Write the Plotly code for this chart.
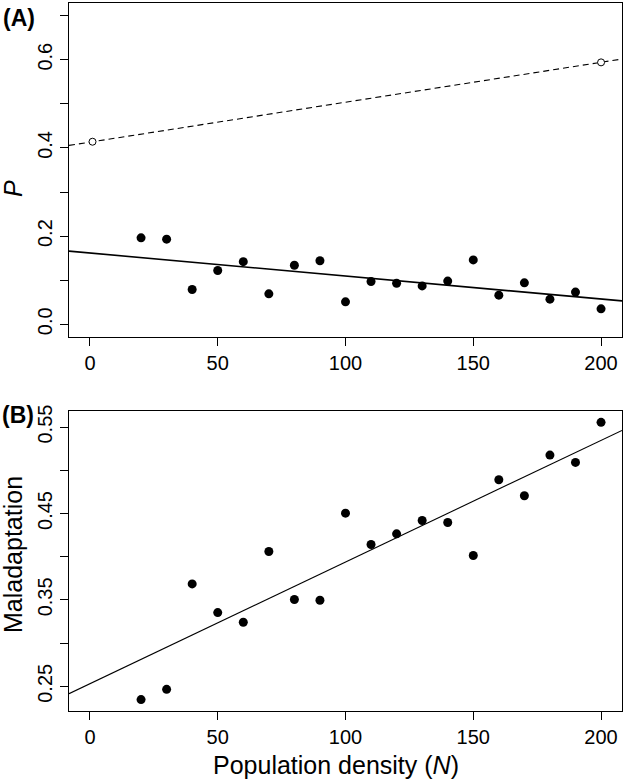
import plotly.graph_objects as go

# ---------------- data ----------------
density = [20, 30, 40, 50, 60, 70, 80, 90, 100, 110, 120, 130, 140, 150, 160, 170, 180, 190, 200]
p_values = [0.196, 0.193, 0.079, 0.122, 0.142, 0.069, 0.134, 0.144, 0.051, 0.097,
            0.093, 0.087, 0.098, 0.146, 0.066, 0.094, 0.057, 0.073, 0.035]
maladaptation = [0.2346, 0.2465, 0.3685, 0.3353, 0.3241, 0.4060, 0.3504, 0.3496, 0.4504, 0.4141,
                 0.4264, 0.4419, 0.4396, 0.4014, 0.4890, 0.4705, 0.5176, 0.5091, 0.5555]
open_x = [1, 200]
open_p = [0.414, 0.594]

# regression line coefficients (intercept, slope)
fit_p = (0.1617, -0.000522)
fit_open = (0.4131, 0.000905)
fit_mal = (0.2530, 0.001408)

x_range = [-8.2, 208.2]
yA_range = [-0.0288, 0.7286]
yB_range = [0.2214, 0.5686]

x_ticks = [0, 50, 100, 150, 200]

FONT = "Liberation Sans, Arial, Helvetica, sans-serif"

# ---------------- layout geometry ----------------
W, H = 625, 781
ML, MR, MT, MB = 69, 3, 3, 70
PW = W - ML - MR
PH = H - MT - MB


def px_x(px):
    return (px - ML) / PW


def px_y(py):
    return (H - MB - py) / PH


def line_pts(coef):
    a, b = coef
    return x_range, [a + b * x for x in x_range]


fig = go.Figure()

# Panel A
lx, ly = line_pts(fit_p)
fig.add_trace(go.Scatter(x=lx, y=ly, mode="lines", line=dict(color="black", width=1.6),
                         xaxis="x", yaxis="y", showlegend=False, hoverinfo="skip"))
lx, ly = line_pts(fit_open)
fig.add_trace(go.Scatter(x=lx, y=ly, mode="lines",
                         line=dict(color="black", width=1.1, dash="6px,4px"),
                         xaxis="x", yaxis="y", showlegend=False, hoverinfo="skip"))
fig.add_trace(go.Scatter(x=density, y=p_values, mode="markers",
                         marker=dict(color="black", size=9, line=dict(width=0)),
                         xaxis="x", yaxis="y", showlegend=False))
fig.add_trace(go.Scatter(x=open_x, y=open_p, mode="markers",
                         marker=dict(color="white", size=7, symbol="circle",
                                     line=dict(color="black", width=1)),
                         xaxis="x", yaxis="y", showlegend=False))

# Panel B
lx, ly = line_pts(fit_mal)
fig.add_trace(go.Scatter(x=lx, y=ly, mode="lines", line=dict(color="black", width=1.1),
                         xaxis="x2", yaxis="y2", showlegend=False, hoverinfo="skip"))
fig.add_trace(go.Scatter(x=density, y=maladaptation, mode="markers",
                         marker=dict(color="black", size=9, line=dict(width=0)),
                         xaxis="x2", yaxis="y2", showlegend=False))

axis_common = dict(showgrid=False, zeroline=False, showline=True, linecolor="black",
                   linewidth=1.3, mirror=True, ticks="outside", ticklen=8,
                   tickwidth=1.3, tickcolor="black", automargin=False,
                   tickfont=dict(family=FONT, size=20, color="black"))

fig.update_layout(
    template="none",
    width=W, height=H,
    margin=dict(l=ML, r=MR, t=MT, b=MB, autoexpand=False),
    paper_bgcolor="white", plot_bgcolor="white",
    font=dict(family=FONT, color="black"),
    xaxis=dict(domain=[0, 1], anchor="y", range=x_range, tickmode="array",
               tickvals=x_ticks, **axis_common),
    yaxis=dict(domain=[px_y(337), 1], anchor="x", range=yA_range, tickmode="linear",
               tick0=0, dtick=0.2, tickformat=".1f", tickangle=-90,
               minor=dict(dtick=0.1, tick0=0, ticks="outside", ticklen=8,
                          tickwidth=1.3, tickcolor="black", showgrid=False),
               **axis_common),
    xaxis2=dict(domain=[0, 1], anchor="y2", range=x_range, tickmode="array",
                tickvals=x_ticks, **axis_common),
    yaxis2=dict(domain=[0, px_y(411)], anchor="x2", range=yB_range, tickmode="linear",
                tick0=0.25, dtick=0.1, tickformat=".2f", tickangle=-90,
                minor=dict(dtick=0.05, tick0=0.25, ticks="outside", ticklen=8,
                           tickwidth=1.3, tickcolor="black", showgrid=False),
                **axis_common),
)

ann = [
    dict(text="<b>(A)</b>", x=px_x(1), y=px_y(18), xanchor="left", yanchor="middle",
         font=dict(size=23)),
    dict(text="<b>(B)</b>", x=px_x(0), y=px_y(415), xanchor="left", yanchor="middle",
         font=dict(size=23)),
    dict(text="<i>P</i>", x=px_x(13), y=px_y(189), xanchor="center", yanchor="middle",
         textangle=-90, font=dict(size=25)),
    dict(text="Maladaptation", x=px_x(13), y=px_y(555), xanchor="center", yanchor="middle",
         textangle=-90, font=dict(size=25)),
    dict(text="Population density (<i>N</i>)", x=px_x(336), y=px_y(765),
         xanchor="center", yanchor="middle", font=dict(size=25)),
]
for a in ann:
    a.update(xref="paper", yref="paper", showarrow=False)
    a["font"].update(family=FONT, color="black")
fig.update_layout(annotations=ann)

fig.write_html("out.html", config={"displayModeBar": False},
               post_script="document.body.style.margin='0';document.body.style.overflow='hidden';")
